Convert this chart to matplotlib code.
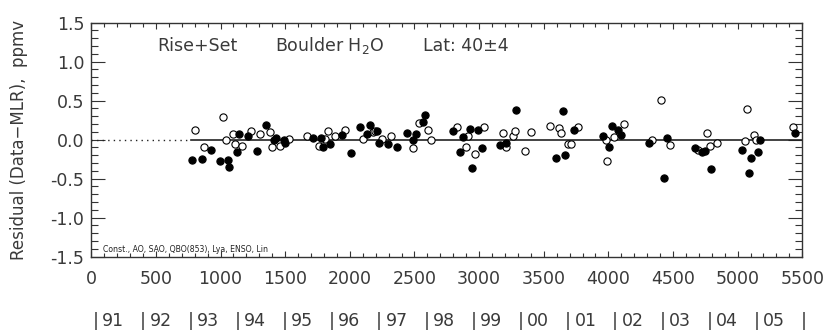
import matplotlib
matplotlib.use("Agg")
import matplotlib.pyplot as plt
from matplotlib.ticker import MultipleLocator, FormatStrFormatter

# ---- data ----
filled_x = [781, 854, 923, 996, 1055, 1068, 1127, 1140, 1212, 1284, 1354, 1413, 1429, 1491, 1501,
            1718, 1777, 1790, 1847, 1937, 2007, 2079, 2130, 2154, 2210, 2223, 2295, 2365, 2440,
            2491, 2514, 2568, 2584, 2800, 2852, 2873, 2930, 2945, 2994, 3020, 3162, 3210, 3288,
            3595, 3651, 3667, 3734, 3956, 4008, 4026, 4077, 4098, 4314, 4433, 4456, 4670, 4722,
            4747, 4796, 5031, 5086, 5103, 5155, 5175, 5444]
filled_y = [-0.265, -0.248, -0.128, -0.269, -0.265, -0.354, -0.162, 0.068, 0.042, -0.150, 0.192,
            -0.009, 0.020, -0.009, -0.038, 0.020, 0.026, -0.095, -0.060, 0.064, -0.171, 0.166,
            0.072, 0.192, 0.115, -0.038, -0.051, -0.098, 0.085, -0.009, 0.068, 0.221, 0.315,
            0.106, -0.159, 0.033, 0.141, -0.367, 0.123, -0.102, -0.069, -0.038, 0.375, -0.235,
            0.362, -0.197, 0.128, 0.040, -0.095, 0.170, 0.119, 0.055, -0.043, -0.495, 0.020,
            -0.102, -0.159, -0.153, -0.376, -0.128, -0.431, -0.230, -0.162, 0.000, 0.090]

open_x = [802, 874, 1019, 1040, 1099, 1109, 1166, 1238, 1307, 1382, 1398, 1460, 1532, 1669, 1764,
          1810, 1831, 1885, 1960, 2104, 2177, 2195, 2249, 2321, 2486, 2535, 2607, 2630, 2827,
          2896, 2914, 2968, 3040, 3187, 3210, 3260, 3275, 3355, 3404, 3548, 3620, 3634, 3690,
          3713, 3763, 3978, 3993, 4046, 4121, 4340, 4407, 4477, 4696, 4765, 4786, 4838, 5055,
          5072, 5124, 5142, 5431]
open_y = [0.123, -0.098, 0.289, -0.004, 0.068, -0.056, -0.081, 0.115, 0.068, 0.102, -0.095, -0.077,
          0.013, 0.042, -0.086, 0.013, 0.106, 0.046, 0.128, 0.004, 0.097, 0.106, 0.008, 0.046,
          -0.111, 0.208, 0.128, 0.000, 0.161, -0.095, 0.046, -0.184, 0.166, 0.081, -0.098, 0.046,
          0.115, -0.150, 0.097, 0.179, 0.153, 0.081, -0.051, -0.051, 0.161, -0.011, -0.281, 0.038,
          0.205, -0.009, 0.503, -0.073, -0.128, 0.090, -0.086, -0.038, -0.022, 0.396, 0.055,
          -0.009, 0.157]

year_labels = ["91", "92", "93", "94", "95", "96", "97", "98", "99", "00", "01", "02", "03", "04", "05", ""]
year_start = 35
days_per_year = 365.25

TXT = "#3a3a3a"

fig = plt.figure(figsize=(8.27, 3.30), dpi=100)
ax = fig.add_axes([0.1104, 0.2224, 0.8597, 0.7094])

ax.set_xlim(0, 5500)
ax.set_ylim(-1.5, 1.5)

# zero line: dotted then solid
ax.plot([0, 770], [0, 0], color="#222222", lw=1.0, ls=(0, (1, 3)))
ax.plot([770, 5500], [0, 0], color="#222222", lw=1.2)

ax.plot(open_x, open_y, "o", ms=5.2, mfc="white", mec="black", mew=0.8, ls="none", zorder=3)
ax.plot(filled_x, filled_y, "o", ms=5.2, mfc="black", mec="black", mew=0.8, ls="none", zorder=4)

ax.xaxis.set_major_locator(MultipleLocator(500))
ax.xaxis.set_minor_locator(MultipleLocator(100))
ax.yaxis.set_major_locator(MultipleLocator(0.5))
ax.yaxis.set_minor_locator(MultipleLocator(0.1))
ax.yaxis.set_major_formatter(FormatStrFormatter("%.1f"))

ax.tick_params(axis="both", which="both", direction="in", top=True, right=True,
               colors="#333333", labelcolor=TXT, labelsize=12.5)
ax.tick_params(axis="y", which="major", length=10, width=0.8, pad=5)
ax.tick_params(axis="y", which="minor", length=5, width=0.8)
ax.tick_params(axis="x", which="major", length=4.5, width=0.8, pad=10)
ax.tick_params(axis="x", which="minor", length=3, width=0.8)
for s in ax.spines.values():
    s.set_color("#333333")
    s.set_linewidth(1.0)

ax.set_ylabel("Residual (Data\u2212MLR),  ppmv", fontsize=12, color=TXT, labelpad=16)

ax.text(0.0924, 0.90, "Rise+Set", transform=ax.transAxes, fontsize=12.5, color=TXT, va="center")
ax.text(0.2585, 0.90, "Boulder H$_2$O", transform=ax.transAxes, fontsize=12.5, color=TXT, va="center")
ax.text(0.4665, 0.90, "Lat: 40\u00b14", transform=ax.transAxes, fontsize=12.5, color=TXT, va="center")
ax.text(0.016, 0.012, "Const., AO, SAO, QBO(853), Lya, ENSO, Lin", transform=ax.transAxes,
        fontsize=5.6, color="#222222", va="bottom", ha="left",
        family=["DejaVu Sans Condensed", "DejaVu Sans"])

xt = ax.get_xaxis_transform()
for k, lab in enumerate(year_labels):
    xb = year_start + days_per_year * k
    ax.text(xb, -0.275, "|", transform=xt, fontsize=12.5, color=TXT, ha="center", va="center", clip_on=False)
    if lab:
        ax.text(xb + 50, -0.275, lab, transform=xt, fontsize=12.5, color=TXT, ha="left", va="center", clip_on=False)

fig.savefig("out.png", dpi=100)
